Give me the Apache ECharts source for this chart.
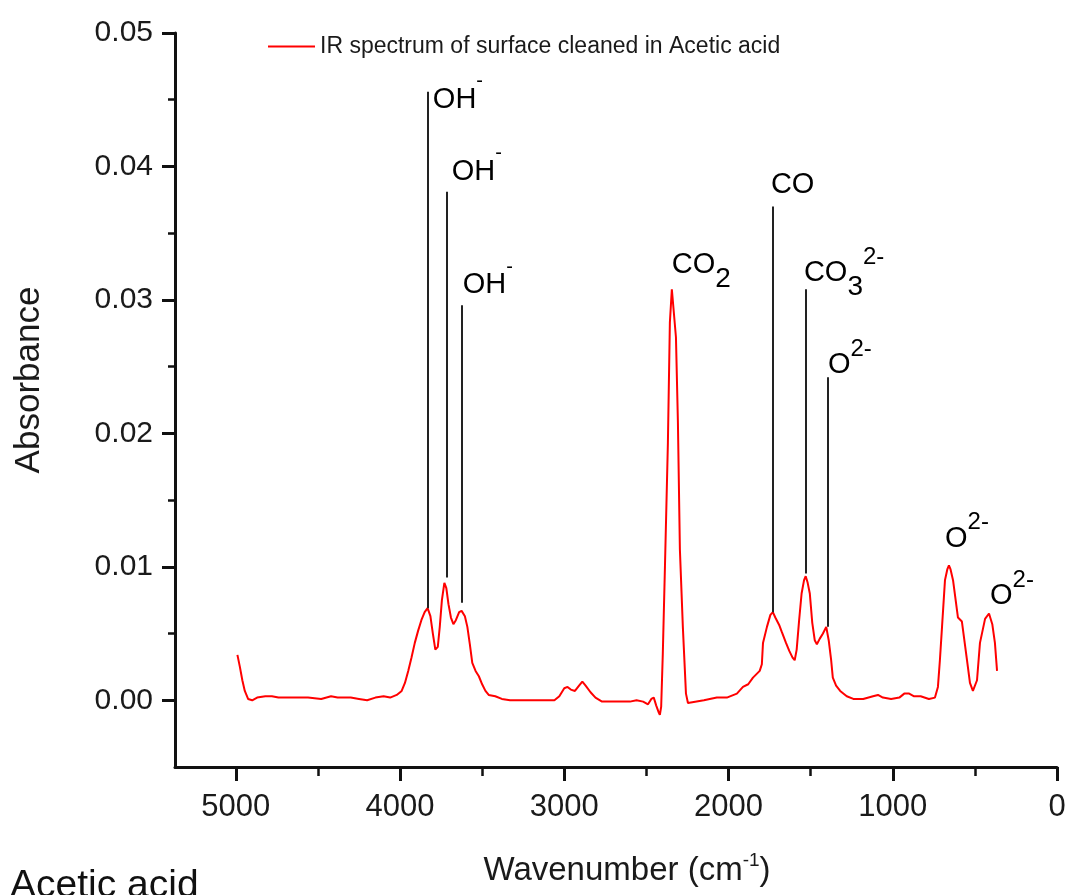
<!DOCTYPE html>
<html>
<head>
<meta charset="utf-8">
<script src="https://cdn.jsdelivr.net/npm/echarts@6/dist/echarts.min.js"></script>
<style>
  html, body { margin: 0; padding: 0; background: #fff; }
  #chart { width: 1070px; height: 895px; }
</style>
</head>
<body>
<div id="chart"></div>
<script>
// spectrum (wavenumber cm-1, absorbance)
var wavenumber = [4990, 4975, 4960, 4945, 4925, 4900, 4870, 4820, 4780, 4740, 4650, 4560, 4480, 4420, 4380, 4300, 4250, 4200, 4150, 4100, 4060, 4020,
  3990, 3970, 3950, 3930, 3910, 3890, 3870, 3850, 3832, 3815, 3800, 3785, 3770, 3758, 3745, 3730, 3718, 3705, 3690, 3675, 3660, 3640, 3625, 3605, 3590,
  3575, 3560, 3540, 3520, 3500, 3480, 3460, 3420, 3380, 3330, 3250, 3150, 3060, 3030, 3000, 2980, 2960, 2935, 2910, 2890, 2870, 2840, 2810, 2770,
  2700, 2600, 2560, 2520, 2490, 2470, 2455, 2440, 2425, 2418, 2410, 2400, 2387, 2369, 2357, 2345, 2333, 2320, 2308, 2296, 2278, 2259, 2247,
  2150, 2071, 2010, 1949, 1912, 1880, 1851, 1810, 1797, 1790, 1766, 1745, 1730, 1715, 1690, 1675, 1650, 1630, 1610, 1597, 1585, 1570, 1555,
  1540, 1530, 1518, 1505, 1490, 1475, 1462, 1445, 1425, 1405, 1390, 1375, 1365, 1345, 1320, 1280, 1240, 1180, 1120, 1090, 1060, 1010, 960,
  930, 900, 870, 830, 780, 743, 725, 713, 700, 682, 668, 658, 648, 633, 603, 579, 548, 530, 512, 487, 469, 438, 414, 394, 378, 365];
var absorbance = [0.0034, 0.0025, 0.0015, 0.0007, 0.0001, 0.0000, 0.0002, 0.0003, 0.0003, 0.0002, 0.0002, 0.0002, 0.0001, 0.0003, 0.0002, 0.0002, 0.0001, 0.0000, 0.0002, 0.0003, 0.0002, 0.0004,
  0.0007, 0.0013, 0.0022, 0.0032, 0.0043, 0.0052, 0.0060, 0.0066, 0.0069, 0.0063, 0.0050, 0.0038, 0.0040, 0.0055, 0.0075, 0.0088, 0.0084, 0.0072, 0.0062, 0.0057, 0.0060, 0.0066, 0.0067, 0.0063, 0.0055,
  0.0042, 0.0028, 0.0022, 0.0018, 0.0012, 0.0007, 0.0004, 0.0003, 0.0001, 0.0000, 0.0000, 0.0000, 0.0000, 0.0003, 0.0009, 0.0010, 0.0008, 0.0007, 0.0011, 0.0014, 0.0011, 0.0006, 0.0002, -0.0001,
  -0.0001, -0.0001, 0.0000, -0.0001, -0.0003, 0.0001, 0.0002, -0.0004, -0.0009, -0.0011, -0.0005, 0.0035, 0.0100, 0.0193, 0.0283, 0.0308, 0.0308, 0.0272, 0.0208, 0.0113, 0.0055, 0.0005, -0.0002,
  0.0000, 0.0002, 0.0002, 0.0005, 0.0010, 0.0012, 0.0017, 0.0022, 0.0027, 0.0043, 0.0055, 0.0064, 0.0066, 0.0062, 0.0056, 0.0051, 0.0043, 0.0037, 0.0032, 0.0030, 0.0038, 0.0060, 0.0080,
  0.0090, 0.0093, 0.0088, 0.0080, 0.0058, 0.0045, 0.0042, 0.0046, 0.0050, 0.0055, 0.0045, 0.0030, 0.0017, 0.0011, 0.0007, 0.0003, 0.0001, 0.0001, 0.0003, 0.0004, 0.0002, 0.0001, 0.0002,
  0.0005, 0.0005, 0.0003, 0.0003, 0.0001, 0.0002, 0.0010, 0.0030, 0.0055, 0.0090, 0.0098, 0.0101, 0.0098, 0.0090, 0.0062, 0.0059, 0.0030, 0.0013, 0.0007, 0.0015, 0.0043, 0.0061, 0.0065, 0.0057, 0.0043, 0.0022];

// tick values
var xMajor = [0, 1000, 2000, 3000, 4000, 5000];
var xMinor = [500, 1500, 2500, 3500, 4500];
var yMajor = [0, 0.01, 0.02, 0.03, 0.04, 0.05];
var yMinor = [0.005, 0.015, 0.025, 0.035, 0.045];

// peak marker lines
var peakX = [3831, 3715, 3624, 1730, 1529, 1395];
var peakLow = [0.0069, 0.0092, 0.0073, 0.0066, 0.0095, 0.0055];
var peakHigh = [0.0456, 0.0381, 0.0296, 0.0370, 0.0308, 0.0242];

// peak labels
var labelX = [3800, 3685, 3618, 2345, 1742, 1541, 1395, 682, 408];
var labelY = [0.0450, 0.0396, 0.0311, 0.0326, 0.0386, 0.0320, 0.0251, 0.0121, 0.0078];
var labelText = ['{m|OH}{q|-}', '{m|OH}{q|-}', '{m|OH}{q|-}', '{m|CO}{b|2}', '{m|CO}', '{m|CO}{b|3}{p|2-}',
  '{m|O}{p|2-}', '{m|O}{p|2-}', '{m|O}{p|2-}'];

var seriesName = 'IR spectrum of surface cleaned in Acetic acid';
var font = "'Liberation Sans', Arial, sans-serif";

var spectrum = [];
for (var i = 0; i < wavenumber.length; i++) {
  spectrum.push([wavenumber[i], absorbance[i]]);
}
var markLines = [];
for (var j = 0; j < peakX.length; j++) {
  markLines.push([{coord: [peakX[j], peakLow[j]]}, {coord: [peakX[j], peakHigh[j]]}]);
}
var labelPoints = [];
for (var k = 0; k < labelX.length; k++) {
  labelPoints.push([labelX[k], labelY[k]]);
}

var myChart = echarts.init(document.getElementById('chart'));

var axisColor = '#111';
var textColor = '#000';
var option = {
  animation: false,
  backgroundColor: '#fff',
  grid: {left: 175, right: 13, top: 33, bottom: 128},
  legend: {
    data: [{name: seriesName, icon: 'rect'}],
    left: 268,
    top: 35,
    padding: 0,
    itemWidth: 47,
    itemHeight: 2,
    selectedMode: false,
    textStyle: {fontFamily: font, fontSize: 23, color: '#1a1a1a'}
  },
  xAxis: [
    {
      type: 'value',
      inverse: true,
      min: 0,
      max: 5370,
      name: '{a|Wavenumber (cm}{s|-1}{a|)}',
      nameLocation: 'middle',
      nameGap: 84,
      nameTextStyle: {
        padding: [0, 0, 0, 22],
        rich: {
          a: {fontFamily: font, fontSize: 33, lineHeight: 40, verticalAlign: 'middle', color: '#1a1a1a'},
          s: {fontFamily: font, fontSize: 19, lineHeight: 18, verticalAlign: 'top', color: '#1a1a1a'}
        }
      },
      axisLine: {show: true, onZero: false, lineStyle: {color: axisColor, width: 3}},
      axisTick: {show: true, customValues: xMajor, length: 14, lineStyle: {color: axisColor, width: 3}},
      axisLabel: {
        customValues: xMajor, fontFamily: font, fontSize: 31, color: '#1a1a1a', margin: 25,
        formatter: function(v) { return String(v); }
      },
      splitLine: {show: false}
    },
    {
      type: 'value',
      inverse: true,
      min: 0,
      max: 5370,
      position: 'bottom',
      axisLine: {show: false, onZero: false},
      axisTick: {show: true, customValues: xMinor, length: 9, lineStyle: {color: axisColor, width: 2.5}},
      axisLabel: {show: false},
      splitLine: {show: false}
    }
  ],
  yAxis: [
    {
      type: 'value',
      min: -0.005,
      max: 0.05,
      name: 'Absorbance',
      nameLocation: 'middle',
      nameGap: 128,
      nameTextStyle: {fontFamily: font, fontSize: 35, color: '#1a1a1a', padding: [0, 0, 0, 40]},
      axisLine: {show: true, onZero: false, lineStyle: {color: axisColor, width: 3}},
      axisTick: {show: true, customValues: yMajor, length: 13, lineStyle: {color: axisColor, width: 3}},
      axisLabel: {
        customValues: yMajor, fontFamily: font, fontSize: 30, color: '#1a1a1a', margin: 22,
        formatter: function(v) { return v.toFixed(2); }
      },
      splitLine: {show: false}
    },
    {
      type: 'value',
      min: -0.005,
      max: 0.05,
      position: 'left',
      axisLine: {show: false, onZero: false},
      axisTick: {show: true, customValues: yMinor, length: 7, lineStyle: {color: axisColor, width: 2.5}},
      axisLabel: {show: false},
      splitLine: {show: false}
    }
  ],
  series: [
    {
      name: seriesName,
      type: 'line',
      data: spectrum,
      symbol: 'none',
      lineStyle: {color: '#ff0000', width: 2},
      itemStyle: {color: '#ff0000'},
      markLine: {
        silent: true,
        symbol: ['none', 'none'],
        label: {show: false},
        lineStyle: {color: '#222', width: 2, type: 'solid'},
        data: markLines
      }
    },
    {
      name: 'labels',
      type: 'scatter',
      data: labelPoints,
      symbolSize: 0,
      silent: true,
      itemStyle: {color: '#000', opacity: 1},
      label: {
        show: true,
        position: 'right',
        distance: 0,
        color: textColor,
        opacity: 1,
        formatter: function(p) { return labelText[p.dataIndex]; },
        rich: {
          m: {fontFamily: font, fontSize: 29, lineHeight: 56, verticalAlign: 'middle', color: textColor},
          p: {fontFamily: font, fontSize: 24, lineHeight: 24, verticalAlign: 'top', color: textColor},
          q: {fontFamily: font, fontSize: 20, lineHeight: 20, verticalAlign: 'top', color: textColor},
          b: {fontFamily: font, fontSize: 28, lineHeight: 27, verticalAlign: 'bottom', color: textColor}
        }
      }
    }
  ],
  graphic: [
    {
      type: 'text',
      left: 10,
      top: 867,
      style: {text: 'Acetic acid', font: "39px 'Liberation Sans', Arial, sans-serif", fill: '#111'}
    }
  ]
};

myChart.setOption(option);
</script>
</body>
</html>
